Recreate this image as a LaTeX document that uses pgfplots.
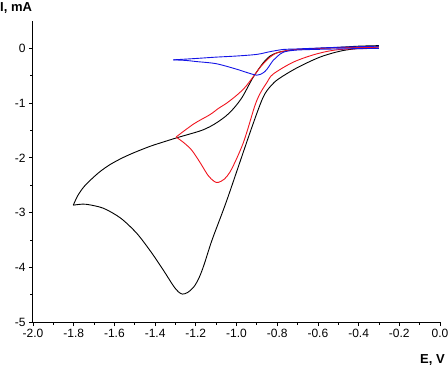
\documentclass[border=0pt]{standalone}
\usepackage{fontspec}
\setmainfont{Liberation Sans}
\usepackage{pgfplots}
\pgfplotsset{compat=1.18}
\definecolor{cvred}{RGB}{240,20,30}
\definecolor{cvblue}{RGB}{20,20,230}
\begin{document}
\begin{tikzpicture}
\begin{axis}[
  scale only axis, width=407pt, height=301pt,
  xmin=-2, xmax=0, ymin=-5, ymax=0.5,
  axis x line*=bottom, axis y line*=left,
  x axis line style={-}, y axis line style={-},
  axis line style={line width=1pt},
  xtick={-2,-1.8,-1.6,-1.4,-1.2,-1,-0.8,-0.6,-0.4,-0.2,0},
  ytick={-5,-4,-3,-2,-1,0},
  minor x tick num=1, minor y tick num=1,
  tick align=outside,
  major tick length=4pt, minor tick length=2.5pt,
  tick style={line width=0.8pt, black},
  xticklabel style={/pgf/number format/.cd, fixed, fixed zerofill, precision=1, assume math mode=true},
  yticklabel style={/pgf/number format/.cd, fixed, precision=0, assume math mode=true},
  ticklabel style={font=\fontsize{12}{14}\selectfont},
  clip=false,
]
% black
\addplot[black, line width=0.9pt, smooth] coordinates {
(-0.30,0.05) (-0.40,0.04) (-0.49,0.02) (-0.60,0.00) (-0.70,-0.02) (-0.75,-0.04)
(-0.80,-0.08) (-0.835,-0.14) (-0.87,-0.27) (-0.92,-0.54) (-0.97,-0.88) (-1.01,-1.08)
(-1.05,-1.23) (-1.09,-1.34) (-1.13,-1.43) (-1.18,-1.51) (-1.29,-1.63) (-1.376,-1.73)
(-1.425,-1.79) (-1.50,-1.90) (-1.56,-2.00) (-1.62,-2.12) (-1.67,-2.25) (-1.71,-2.38)
(-1.75,-2.53) (-1.78,-2.69) (-1.802,-2.865)
};
\addplot[black, line width=0.9pt, smooth] coordinates {
(-1.802,-2.865) (-1.77,-2.85) (-1.736,-2.85) (-1.655,-2.92) (-1.57,-3.10) (-1.49,-3.38)
(-1.42,-3.72) (-1.36,-4.05) (-1.31,-4.34) (-1.285,-4.45) (-1.265,-4.49) (-1.24,-4.46)
(-1.21,-4.36) (-1.185,-4.20) (-1.16,-3.96) (-1.12,-3.50) (-1.047,-2.77) (-0.93,-1.50)
(-0.87,-0.90) (-0.83,-0.68) (-0.79,-0.55) (-0.70,-0.35) (-0.59,-0.16) (-0.49,-0.05)
(-0.40,0.00) (-0.30,0.03)
};
% red
\addplot[cvred, line width=0.9pt, smooth] coordinates {
(-0.30,0.02) (-0.50,0.01) (-0.70,-0.02) (-0.75,-0.04) (-0.80,-0.08) (-0.835,-0.16)
(-0.88,-0.33) (-0.92,-0.53) (-0.96,-0.72) (-1.00,-0.86) (-1.048,-1.00) (-1.09,-1.10)
(-1.13,-1.21) (-1.21,-1.38) (-1.297,-1.62)
};
\addplot[cvred, line width=0.9pt, smooth] coordinates {
(-1.297,-1.62) (-1.26,-1.72) (-1.22,-1.86) (-1.18,-2.08) (-1.14,-2.32) (-1.11,-2.43)
(-1.09,-2.45) (-1.06,-2.39) (-1.032,-2.26) (-1.00,-2.02) (-0.968,-1.74) (-0.945,-1.48)
(-0.91,-1.05) (-0.885,-0.83) (-0.85,-0.62) (-0.82,-0.47) (-0.72,-0.25) (-0.605,-0.10)
(-0.49,-0.02) (-0.30,0.00)
};
% blue
\addplot[cvblue, line width=0.9pt, smooth] coordinates {
(-0.30,0.04) (-0.50,0.02) (-0.70,-0.01) (-0.77,-0.02) (-0.835,-0.06) (-0.90,-0.11)
(-1.00,-0.14) (-1.10,-0.16) (-1.20,-0.185) (-1.31,-0.21)
};
\addplot[cvblue, line width=0.9pt, smooth] coordinates {
(-1.31,-0.21) (-1.25,-0.22) (-1.20,-0.24) (-1.10,-0.28) (-1.00,-0.38) (-0.95,-0.44)
(-0.90,-0.49) (-0.87,-0.45) (-0.85,-0.38) (-0.82,-0.22) (-0.80,-0.15) (-0.77,-0.07)
(-0.70,-0.03) (-0.50,-0.01) (-0.30,0.00)
};
\node[anchor=north west, inner sep=0pt, font=\bfseries\fontsize{13}{15}\selectfont]
  at (rel axis cs:0,1) [xshift=-33pt, yshift=19pt] {I, mA};
\node[anchor=base east, inner sep=0pt, font=\bfseries\fontsize{13}{15}\selectfont]
  at (rel axis cs:1,0) [xshift=5pt, yshift=-41pt] {E, V};
\coordinate (tl) at (rel axis cs:0,1);
\coordinate (br) at (rel axis cs:1,0);
\end{axis}
\pgfresetboundingbox
\path[use as bounding box] ([shift={(-33pt,21pt)}]tl) rectangle ([shift={(8pt,-43pt)}]br);
\end{tikzpicture}
\end{document}
